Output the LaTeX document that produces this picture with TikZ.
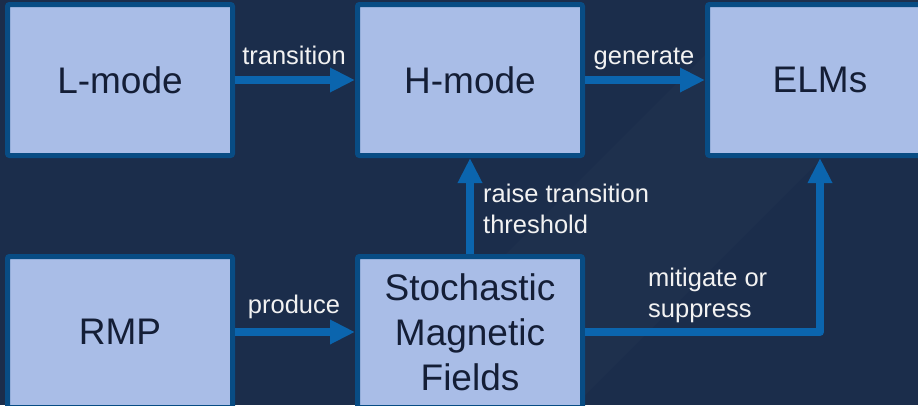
\documentclass[tikz,border=0pt]{standalone}
\usepackage{fontspec}
\setmainfont{Liberation Sans}
\usetikzlibrary{arrows.meta}
\definecolor{bgcol}{HTML}{1B2D4B}
\definecolor{boxfill}{HTML}{A9BDE7}
\definecolor{boxline}{HTML}{084C84}
\definecolor{arrcol}{HTML}{0B65AE}
\definecolor{boxtext}{HTML}{141E36}
\definecolor{labtext}{HTML}{F2F2F2}
\tikzset{
  blk/.style={draw=boxline, fill=boxfill, line width=5pt, rounded corners=2pt,
    minimum width=225pt, minimum height=151pt, inner sep=0pt, align=center,
    text=boxtext, font=\fontsize{37}{45}\selectfont},
  conn/.style={draw=arrcol, line width=8pt, line join=round,
    -{Triangle[length=25pt,width=23pt]}},
  lab/.style={text=labtext, inner sep=0pt, align=left,
    font=\fontsize{25.5}{31}\selectfont}
}
\begin{document}
\begin{tikzpicture}[x=1pt,y=-1pt]
\useasboundingbox (0,0) rectangle (918,405);
\clip (0,0) rectangle (918,405);
\fill[bgcol] (0,0) rectangle (918,405);
\fill[white,opacity=0.015] (760,0) -- (980,0) -- (575,405) -- (355,405) -- cycle;
\node[blk] (L) at (120,80) {L-mode};
\node[blk] (H) at (470,80) {H-mode};
\node[blk] (E) at (820,80) {ELMs};
\node[blk] (R) at (120,332) {RMP};
\node[blk] (S) at (470,332) {Stochastic\\Magnetic\\Fields};
\draw[conn] (L.east) -- (H.west);
\draw[conn] (H.east) -- (E.west);
\draw[conn] (R.east) -- (S.west);
\draw[conn] (S.north) -- (H.south);
\draw[conn] (S.east) -| (E.south);
\node[lab, anchor=base] (t1) at (294,64) {transition};
\node[lab, anchor=base] (t2) at (644,64) {generate};
\node[lab, anchor=base] (t3) at (294,313) {produce};
\node[lab, anchor=north west] (t4) at (483,184) {raise transition\\threshold};
\node[lab, anchor=north west] (t5) at (648,268) {mitigate or\\suppress};
\end{tikzpicture}
\end{document}
